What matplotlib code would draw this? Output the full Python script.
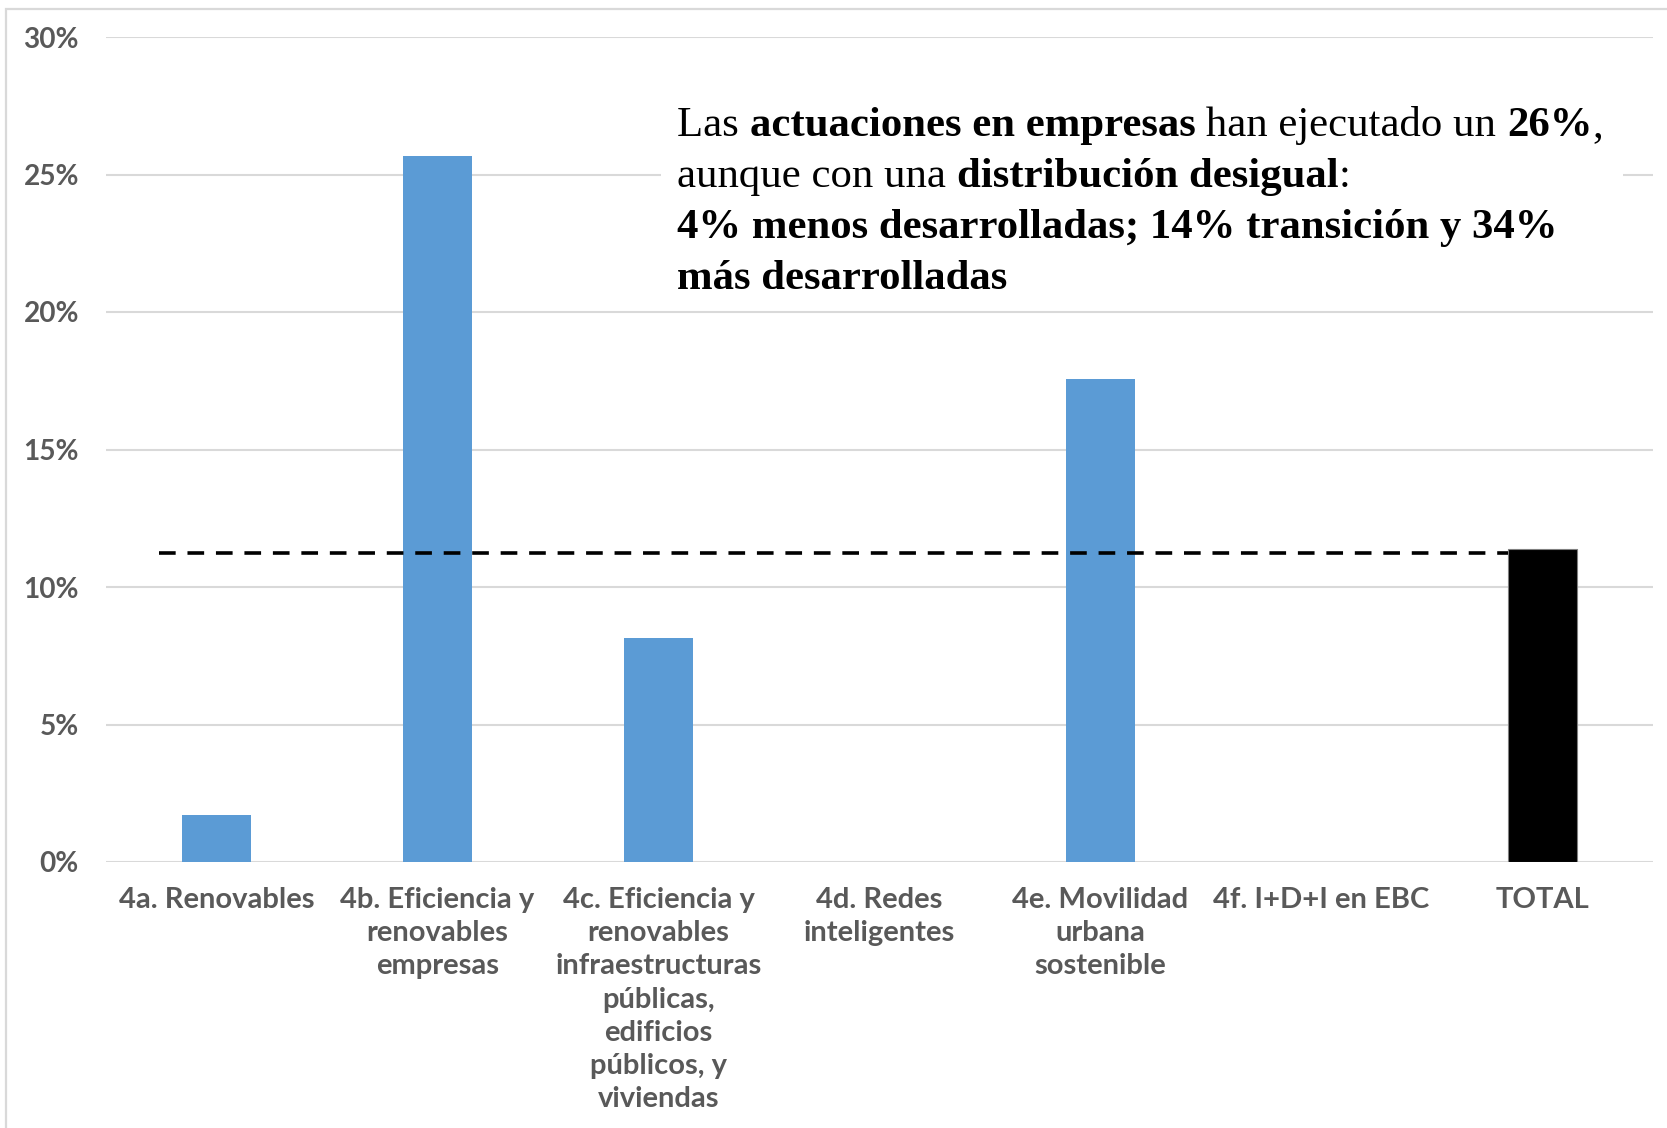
import numpy as np
import matplotlib
matplotlib.use('Agg')
from matplotlib import pyplot as plt
from matplotlib.patches import Rectangle

# datos del grafico
categorias = ['4a. Renovables',
              '4b. Eficiencia y\nrenovables\nempresas',
              '4c. Eficiencia y\nrenovables\ninfraestructuras\npúblicas,\nedificios\npúblicos, y\nviviendas',
              '4d. Redes\ninteligentes',
              '4e. Movilidad\nurbana\nsostenible',
              '4f. I+D+I en EBC',
              'TOTAL']
valores = [1.70, 25.67, 8.16, 0.0, 17.55, 0.0, 11.40]
media_total = 11.25
yticks = [0, 5, 10, 15, 20, 25, 30]

W, H = 1667, 1128
plt.rcParams['lines.scale_dashes'] = False
fig = plt.figure(figsize=(W / 100, H / 100), dpi=100)
ax = fig.add_axes([106 / W, 1 - 862 / H, (1653 - 106) / W, (862 - 37) / H])

x = np.arange(len(categorias))
bw = 0.31
colores = ['#5b9bd5'] * (len(categorias) - 1) + ['black']
ax.bar(x, valores, width=bw, color=colores, zorder=3,
       edgecolor=['none'] * (len(categorias) - 1) + ['#7f7f7f'], linewidth=0.8)

ax.hlines(media_total, -0.26, x[-1] - bw / 2, colors='black', linewidth=2.6,
          linestyles=(0, (12, 8.5)), zorder=4)

ax.set_xlim(-0.5, len(categorias) - 0.5)
ax.set_ylim(0, 30)
ax.set_yticks(yticks)
ax.set_yticklabels([f'{v}%' for v in yticks])
ax.set_xticks(x)
ax.set_xticklabels(categorias)
for lbl in ax.get_xticklabels() + ax.get_yticklabels():
    lbl.set_fontfamily('Lato')
    lbl.set_fontweight('bold')
    lbl.set_color('#595959')
for lbl in ax.get_xticklabels():
    lbl.set_fontsize(21)
    lbl.set_linespacing(1.345)
for lbl in ax.get_yticklabels():
    lbl.set_fontsize(20.2)
ax.tick_params(axis='both', length=0)
ax.tick_params(axis='x', pad=18)
ax.tick_params(axis='y', pad=19.5)
ax.grid(axis='y', color='#d9d9d9', linewidth=1.5, zorder=0)
for s in ax.spines.values():
    s.set_visible(False)
ax.set_axisbelow(True)

# caja blanca del texto sobre la rejilla
caja = Rectangle((661 / W, 1 - 285 / H), (1623 - 661) / W, (285 - 60) / H,
                 transform=fig.transFigure, facecolor='white', edgecolor='none', zorder=5)
ax.add_patch(caja)
caja.set_clip_on(False)

# borde del area del grafico
borde = Rectangle((6 / W, -0.05), 1.2, 1 - 9 / H + 0.05, transform=fig.transFigure,
                  facecolor='none', edgecolor='#d9d9d9', linewidth=1.6)
fig.patches.append(borde)

lineas = [
    [('Las ', 'normal'), ('actuaciones en empresas', 'bold'), (' han ejecutado un ', 'normal'),
     ('26%', 'bold'), (',', 'normal')],
    [('aunque con una ', 'normal'), ('distribución desigual', 'bold'), (':', 'normal')],
    [('4% menos desarrolladas; 14% transición y 34%', 'bold')],
    [('más desarrolladas', 'bold')],
]
baselines = [136, 187, 238, 289]
fig.canvas.draw()
r = fig.canvas.get_renderer()
for segs, yb in zip(lineas, baselines):
    xp = 677
    for s, w in segs:
        t = fig.text(xp / W, 1 - yb / H, s, fontsize=30.8, fontweight=w,
                     family='Liberation Serif', va='baseline', ha='left', zorder=6)
        bb = t.get_window_extent(renderer=r)
        xp += bb.width

fig.savefig('out.png', dpi=100, facecolor='white')
